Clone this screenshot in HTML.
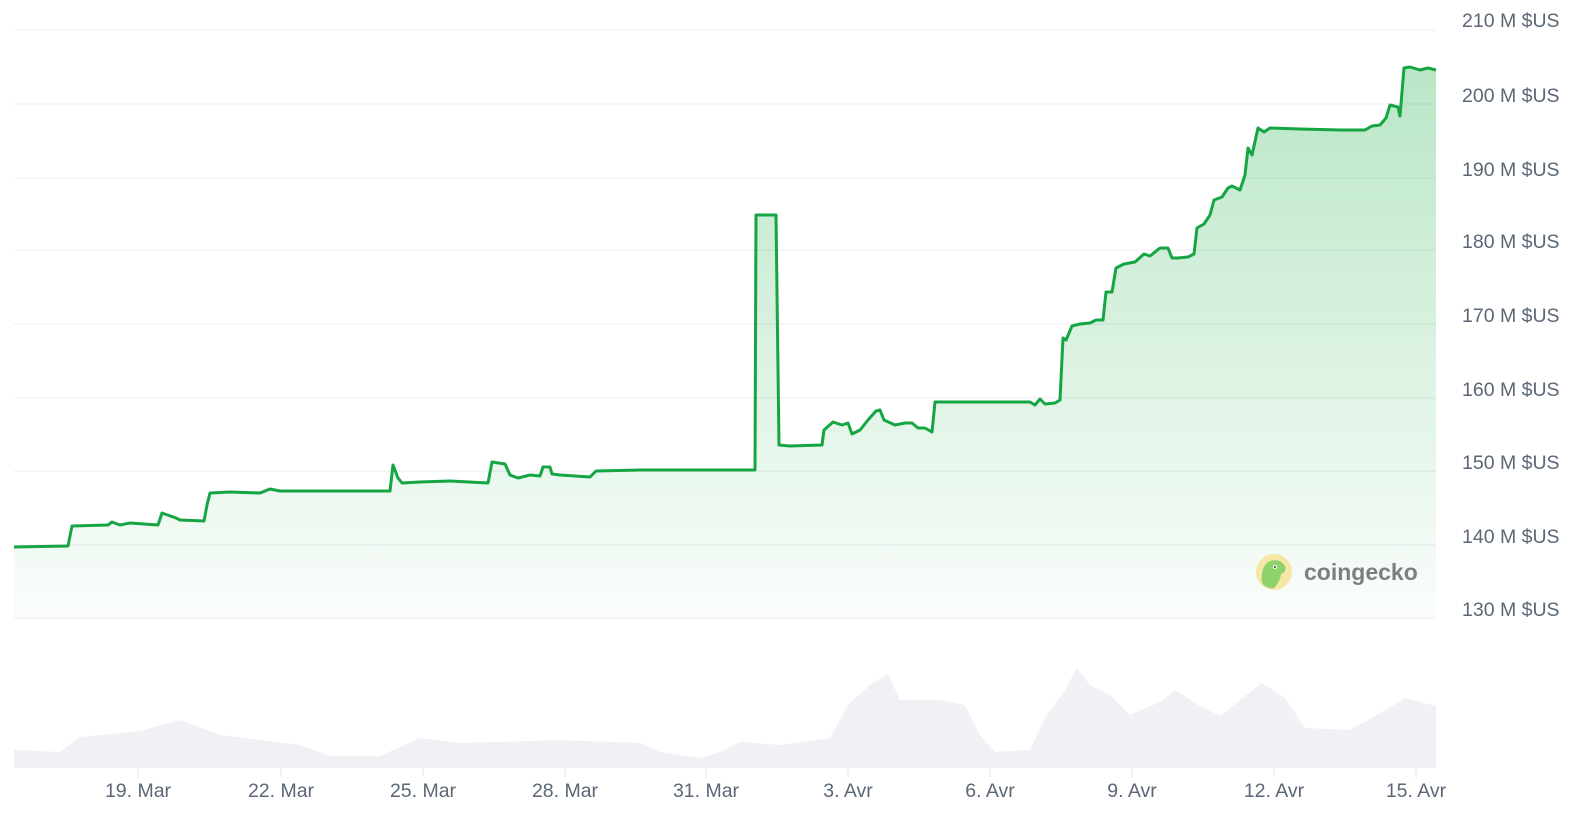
<!DOCTYPE html>
<html><head><meta charset="utf-8"><style>
html,body{margin:0;padding:0;background:#fff;overflow:hidden;width:1573px;height:820px;}
svg{display:block;font-family:"Liberation Sans",sans-serif;}
</style></head><body>
<svg width="1573" height="820" viewBox="0 0 1573 820">
<defs>
<linearGradient id="g" gradientUnits="userSpaceOnUse" x1="0" y1="60" x2="0" y2="618">
<stop offset="0" stop-color="#22b04b" stop-opacity="0.32"/>
<stop offset="1" stop-color="#22b04b" stop-opacity="0.02"/>
</linearGradient>
</defs>
<g stroke="#e9ecef" stroke-width="1">
<line x1="14" y1="30" x2="1436" y2="30"/>
<line x1="14" y1="104" x2="1436" y2="104"/>
<line x1="14" y1="178" x2="1436" y2="178"/>
<line x1="14" y1="250" x2="1436" y2="250"/>
<line x1="14" y1="324" x2="1436" y2="324"/>
<line x1="14" y1="398" x2="1436" y2="398"/>
<line x1="14" y1="471" x2="1436" y2="471"/>
<line x1="14" y1="545" x2="1436" y2="545"/>
<line x1="14" y1="618" x2="1436" y2="618"/>
</g>
<g fill="#5b6776" font-size="19.5">
<text x="1462" y="27">210 M $US</text>
<text x="1462" y="102">200 M $US</text>
<text x="1462" y="176">190 M $US</text>
<text x="1462" y="248">180 M $US</text>
<text x="1462" y="322">170 M $US</text>
<text x="1462" y="396">160 M $US</text>
<text x="1462" y="469">150 M $US</text>
<text x="1462" y="543">140 M $US</text>
<text x="1462" y="616">130 M $US</text>
</g>
<path fill="url(#g)" stroke="none" d="M14,547 L68,546 L72,526 L108,525 L112,522 L120,525 L130,523 L158,525 L162,513 L176,518 L180,520 L204,521 L207,505 L210,493 L230,492 L260,493 L270,489 L280,491 L300,491 L390,491 L393,465 L398,478 L402,483 L420,482 L450,481 L488,483 L492,462 L505,464 L510,475 L518,478 L530,475 L540,476 L543,467 L550,467 L552,474 L560,475 L590,477 L596,471 L640,470 L700,470 L740,470 L755,470 L756,215 L776,215 L779,445 L790,446 L822,445 L824,430 L833,422 L842,425 L848,423 L852,434 L860,430 L868,420 L876,411 L880,410 L884,420 L895,425 L905,423 L912,423 L918,428 L925,428 L932,432 L935,402 L950,402 L1030,402 L1035,405 L1040,399 L1045,404 L1055,403 L1060,400 L1063,338 L1066,340 L1072,326 L1080,324 L1090,323 L1096,320 L1103,320 L1106,292 L1112,292 L1116,268 L1124,264 L1135,262 L1144,254 L1150,256 L1160,248 L1168,248 L1172,258 L1178,258 L1188,257 L1194,254 L1197,228 L1204,224 L1210,215 L1214,200 L1222,197 L1228,188 L1232,186 L1240,190 L1245,175 L1248,148 L1252,155 L1256,137 L1258,128 L1264,132 L1270,128 L1300,129 L1340,130 L1365,130 L1372,126 L1380,125 L1386,118 L1390,105 L1398,107 L1400,116 L1404,68 L1410,67 L1420,70 L1428,68 L1436,70 L1436,618 L14,618 Z"/>
<polyline fill="none" stroke="#15a542" stroke-width="3" stroke-linejoin="round" points="14,547 68,546 72,526 108,525 112,522 120,525 130,523 158,525 162,513 176,518 180,520 204,521 207,505 210,493 230,492 260,493 270,489 280,491 300,491 390,491 393,465 398,478 402,483 420,482 450,481 488,483 492,462 505,464 510,475 518,478 530,475 540,476 543,467 550,467 552,474 560,475 590,477 596,471 640,470 700,470 740,470 755,470 756,215 776,215 779,445 790,446 822,445 824,430 833,422 842,425 848,423 852,434 860,430 868,420 876,411 880,410 884,420 895,425 905,423 912,423 918,428 925,428 932,432 935,402 950,402 1030,402 1035,405 1040,399 1045,404 1055,403 1060,400 1063,338 1066,340 1072,326 1080,324 1090,323 1096,320 1103,320 1106,292 1112,292 1116,268 1124,264 1135,262 1144,254 1150,256 1160,248 1168,248 1172,258 1178,258 1188,257 1194,254 1197,228 1204,224 1210,215 1214,200 1222,197 1228,188 1232,186 1240,190 1245,175 1248,148 1252,155 1256,137 1258,128 1264,132 1270,128 1300,129 1340,130 1365,130 1372,126 1380,125 1386,118 1390,105 1398,107 1400,116 1404,68 1410,67 1420,70 1428,68 1436,70"/>
<polygon fill="#eff1f4" points="14,768 14,750 60,752 80,737 140,731 180,720 220,735 260,740 300,745 330,756 380,756 420,738 460,743 500,742 560,740 640,743 660,752 700,758 720,752 740,742 780,745 830,738 848,705 870,685 888,674 900,700 940,700 965,705 980,735 995,752 1030,750 1045,718 1065,690 1077,668 1090,685 1110,695 1130,715 1160,702 1175,690 1200,706 1220,716 1240,700 1262,683 1285,698 1305,728 1350,730 1375,716 1405,698 1436,706 1436,768"/>
<g stroke="#e3e6ea" stroke-width="1">
<line x1="138" y1="768" x2="138" y2="777"/><line x1="281" y1="768" x2="281" y2="777"/>
<line x1="423" y1="768" x2="423" y2="777"/><line x1="565" y1="768" x2="565" y2="777"/>
<line x1="706" y1="768" x2="706" y2="777"/><line x1="848" y1="768" x2="848" y2="777"/>
<line x1="990" y1="768" x2="990" y2="777"/><line x1="1132" y1="768" x2="1132" y2="777"/>
<line x1="1274" y1="768" x2="1274" y2="777"/><line x1="1416" y1="768" x2="1416" y2="777"/>
</g>
<g fill="#5b6776" font-size="19.5" text-anchor="middle">
<text x="138" y="797">19. Mar</text><text x="281" y="797">22. Mar</text>
<text x="423" y="797">25. Mar</text><text x="565" y="797">28. Mar</text>
<text x="706" y="797">31. Mar</text><text x="848" y="797">3. Avr</text>
<text x="990" y="797">6. Avr</text><text x="1132" y="797">9. Avr</text>
<text x="1274" y="797">12. Avr</text><text x="1416" y="797">15. Avr</text>
</g>
<circle cx="1274" cy="572" r="18" fill="#f6e7a6"/>
<path d="M1262,583 Q1260,566 1270,561 Q1280,558 1285,566 Q1287,572 1281,574 Q1280,582 1274,588 Q1266,589 1262,583 Z" fill="#8dd36b"/>
<circle cx="1275" cy="567" r="2" fill="#fff"/><circle cx="1275" cy="567" r="1" fill="#333"/>
<text x="1304" y="580" font-size="23" font-weight="bold" fill="#7b7f80">coingecko</text>
</svg>
</body></html>
